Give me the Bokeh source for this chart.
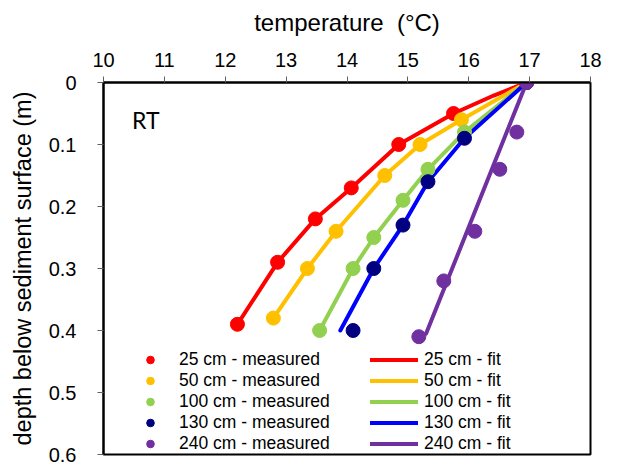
from bokeh.plotting import figure
from bokeh.models import Range1d, FixedTicker, Legend, LegendItem, Label
from bokeh.embed import file_html
from bokeh.resources import INLINE

# ---- data ----
series_names = ["25 cm", "50 cm", "100 cm", "130 cm", "240 cm"]
colors_pts = ["#FF0000", "#FFC000", "#92D050", "#000080", "#7030A0"]
colors_fit = ["#FF0000", "#FFC000", "#92D050", "#0000FF", "#7030A0"]

# measured: temperature (°C) and depth (m)
t_25 = [16.95, 15.75, 14.85, 14.07, 13.48, 12.86, 12.20]
d_25 = [0.00, 0.05, 0.10, 0.17, 0.22, 0.29, 0.39]
t_50 = [16.95, 15.88, 15.20, 14.62, 13.82, 13.35, 12.79]
d_50 = [0.00, 0.06, 0.10, 0.15, 0.24, 0.30, 0.38]
t_100 = [16.95, 15.93, 15.33, 14.92, 14.44, 14.10, 13.55]
d_100 = [0.00, 0.08, 0.14, 0.19, 0.25, 0.30, 0.40]
t_130 = [16.95, 15.93, 15.33, 14.92, 14.44, 14.10]
d_130 = [0.00, 0.09, 0.16, 0.23, 0.30, 0.40]
t_240 = [16.95, 16.79, 16.51, 16.10, 15.59, 15.18]
d_240 = [0.00, 0.08, 0.14, 0.24, 0.32, 0.41]

# fitted curves: temperature (°C) and depth (m)
ft_25 = [16.95, 16.41, 15.75, 14.85, 14.07, 13.48, 12.86, 12.20]
fd_25 = [0.00, 0.021, 0.05, 0.10, 0.17, 0.22, 0.29, 0.39]
ft_50 = [16.95, 15.88, 15.20, 14.62, 13.82, 13.35, 12.79]
fd_50 = [0.00, 0.06, 0.10, 0.15, 0.24, 0.30, 0.38]
ft_100 = [16.95, 15.93, 15.33, 14.92, 14.44, 14.10, 13.55]
fd_100 = [0.00, 0.08, 0.14, 0.19, 0.25, 0.30, 0.40]
ft_130 = [16.95, 15.93, 15.33, 14.92, 14.44, 13.89]
fd_130 = [0.00, 0.09, 0.16, 0.23, 0.30, 0.40]
ft_240 = [16.95, 15.30, 15.18]
fd_240 = [0.00, 0.405, 0.41]

x_ticks = [10, 11, 12, 13, 14, 15, 16, 17, 18]
y_ticks = [0, 0.1, 0.2, 0.3, 0.4, 0.5, 0.6]
y_tick_labels = ["0", "0.1", "0.2", "0.3", "0.4", "0.5", "0.6"]

measured = [(t_25, d_25), (t_50, d_50), (t_100, d_100), (t_130, d_130), (t_240, d_240)]
fits = [(ft_25, fd_25), (ft_50, fd_50), (ft_100, fd_100), (ft_130, fd_130), (ft_240, fd_240)]

p = figure(width=618, height=466, output_backend="svg", toolbar_location=None,
           x_axis_location="above",
           x_range=Range1d(10, 18), y_range=Range1d(0.6, 0),
           min_border_left=103, min_border_right=28, min_border_top=82, min_border_bottom=12)

p.xgrid.visible = False
p.ygrid.visible = False
p.outline_line_color = "black"
p.outline_line_width = 2
p.outline_line_alpha = 1
p.background_fill_color = "white"
p.border_fill_color = "white"

for ax in (p.xaxis[0], p.yaxis[0]):
    ax.axis_line_color = "black"
    ax.axis_line_width = 2
    ax.major_tick_line_color = "#606060"
    ax.major_tick_line_width = 1
    ax.major_tick_out = 6
    ax.major_tick_in = 0
    ax.minor_tick_line_color = None
    ax.major_label_text_font = "Liberation Sans"
    ax.major_label_text_font_size = "20px"
    ax.major_label_text_color = "black"
    ax.axis_label_text_font = "Liberation Sans"
    ax.axis_label_text_font_style = "normal"
    ax.axis_label_text_color = "black"

p.xaxis[0].ticker = FixedTicker(ticks=x_ticks)
p.xaxis[0].axis_label = "temperature\u00a0\u00a0(°C)"
p.xaxis[0].axis_label_text_font_size = "24px"
p.xaxis[0].major_label_standoff = 10
p.xaxis[0].axis_label_standoff = 14

p.yaxis[0].ticker = FixedTicker(ticks=y_ticks)
p.yaxis[0].major_label_overrides = {t: s for t, s in zip(y_ticks, y_tick_labels)}
p.yaxis[0].axis_label = "depth below sediment surface (m)"
p.yaxis[0].axis_label_text_font_size = "23.5px"
p.yaxis[0].major_label_standoff = 21
p.yaxis[0].axis_label_standoff = 10

fit_renderers = []
for (ft, fd), c in zip(fits, colors_fit):
    r = p.line(ft, fd, line_color=c, line_width=4, line_join="round", line_cap="round")
    fit_renderers.append(r)

pt_renderers = []
for (t, d), c in zip(measured, colors_pts):
    r = p.scatter(t, d, size=14, fill_color=c, line_color=c, marker="circle")
    pt_renderers.append(r)

leg_common = dict(orientation="vertical", glyph_height=19, label_height=19, spacing=0,
                  padding=0, margin=0, label_text_font="Liberation Sans",
                  label_text_font_size="17.5px", label_text_color="black",
                  label_text_line_height=1.0,
                  border_line_alpha=0, background_fill_alpha=0)
leg_pts = Legend(items=[LegendItem(label=f"{n} - measured", renderers=[r])
                        for n, r in zip(series_names, pt_renderers)],
                 location=(37, 0), glyph_width=20, label_standoff=19, **leg_common)
leg_fit = Legend(items=[LegendItem(label=f"{n} - fit", renderers=[r])
                        for n, r in zip(series_names, fit_renderers)],
                 location=(267, 0), glyph_width=48, label_standoff=6, **leg_common)
p.add_layout(leg_pts, "center")
p.add_layout(leg_fit, "center")

p.add_layout(Label(x=10.47, y=0.060, text="RT", text_font="Lato", text_font_size="23px",
                   text_color="black", text_baseline="alphabetic"))

open("out.html", "w").write(file_html(p, INLINE))
